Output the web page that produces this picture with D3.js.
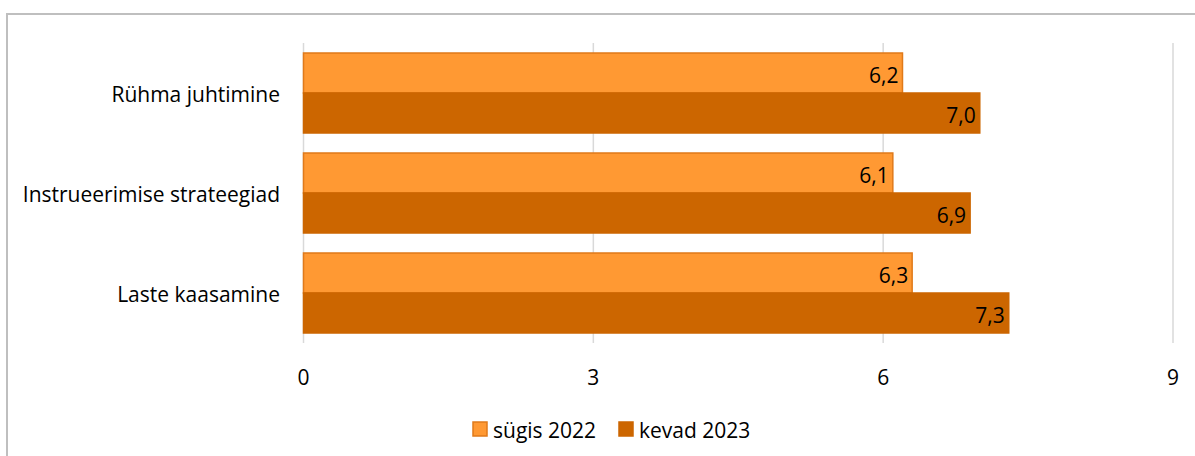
<!DOCTYPE html>
<html>
<head>
<meta charset="utf-8">
<script src="https://cdn.jsdelivr.net/npm/d3@7"></script>
<style>
  body { margin: 0; background: #fff; }
  text { font-family: "Open Sans", Lato, sans-serif; fill: #000; }
</style>
</head>
<body>
<div id="chart"></div>
<script>
// data
var categories = ["Rühma juhtimine", "Instrueerimise strateegiad", "Laste kaasamine"];
var seriesNames = ["sügis 2022", "kevad 2023"];
var sygis2022 = [6.2, 6.1, 6.3];
var kevad2023 = [7.0, 6.9, 7.3];
var xTicks = [0, 3, 6, 9];

(function() {
    var width = 1195,
        height = 456;
    var fontSize = "21px";

    var svg = d3.select("#chart")
        .append("svg")
        .attr("width", width)
        .attr("height", height);

    // outer frame (only top + left visible in the picture)
    svg.append("rect")
        .attr("x", 7).attr("y", 14)
        .attr("width", 1200).attr("height", 460)
        .attr("fill", "none")
        .attr("stroke", "#bfbfbf")
        .attr("stroke-width", 2);

    var left = 303.5, right = 1173, top = 43, bottom = 343;

    var x = d3.scaleLinear().domain([0, 9]).range([left, right]);
    var y = d3.scaleBand().domain(categories).range([top, bottom]).paddingInner(0.2).paddingOuter(0.1);
    var ySub = d3.scaleBand().domain(seriesNames).range([0, y.bandwidth()]);

    var colors = { "sügis 2022": "#ff9933", "kevad 2023": "#cc6600" };
    var strokes = { "sügis 2022": "#e07a1a", "kevad 2023": "#cc6600" };

    // gridlines
    svg.append("g")
        .selectAll("line")
        .data(xTicks)
        .enter().append("line")
        .attr("x1", function(d) { return x(d); })
        .attr("x2", function(d) { return x(d); })
        .attr("y1", top)
        .attr("y2", bottom)
        .attr("stroke", "#d9d9d9")
        .attr("stroke-width", 1.5);

    // x tick labels
    svg.append("g")
        .selectAll("text")
        .data(xTicks)
        .enter().append("text")
        .attr("x", function(d) { return x(d); })
        .attr("y", 377)
        .attr("text-anchor", "middle")
        .attr("dominant-baseline", "central")
        .style("font-size", fontSize)
        .text(function(d) { return d; });

    var rows = categories.map(function(c, i) {
        return { cat: c, values: [
            { s: seriesNames[0], v: sygis2022[i] },
            { s: seriesNames[1], v: kevad2023[i] }
        ]};
    });

    var groups = svg.append("g")
        .selectAll(".cat")
        .data(rows)
        .enter().append("g")
        .attr("class", "cat")
        .attr("transform", function(d) { return "translate(0," + y(d.cat) + ")"; });

    groups.selectAll("rect")
        .data(function(d) { return d.values; })
        .enter().append("rect")
        .attr("x", x(0))
        .attr("y", function(d) { return ySub(d.s); })
        .attr("width", function(d) { return x(d.v) - x(0); })
        .attr("height", ySub.bandwidth())
        .attr("fill", function(d) { return colors[d.s]; })
        .attr("stroke", function(d) { return strokes[d.s]; })
        .attr("stroke-width", 1.5);

    // value labels, inside end
    groups.selectAll(".val")
        .data(function(d) { return d.values; })
        .enter().append("text")
        .attr("class", "val")
        .attr("x", function(d) { return x(d.v) - 4; })
        .attr("y", function(d) { return ySub(d.s) + ySub.bandwidth() / 2 + 2; })
        .attr("text-anchor", "end")
        .attr("dominant-baseline", "central")
        .style("font-size", fontSize)
        .text(function(d) { return d.v.toFixed(1).replace(".", ","); });

    // category labels
    groups.append("text")
        .attr("x", 280)
        .attr("y", y.bandwidth() / 2 + 1)
        .attr("text-anchor", "end")
        .attr("dominant-baseline", "central")
        .style("font-size", fontSize)
        .text(function(d) { return d.cat; });

    // legend
    var legendX = [473, 619];
    var legend = svg.append("g")
        .selectAll(".leg")
        .data(seriesNames)
        .enter().append("g")
        .attr("class", "leg")
        .attr("transform", function(d, i) { return "translate(" + legendX[i] + ",422)"; });

    legend.append("rect")
        .attr("width", 14).attr("height", 14)
        .attr("fill", function(d) { return colors[d]; })
        .attr("stroke", function(d) { return strokes[d]; })
        .attr("stroke-width", 1.5);

    legend.append("text")
        .attr("x", 20)
        .attr("y", 8)
        .attr("dominant-baseline", "central")
        .style("font-size", fontSize)
        .text(function(d) { return d; });
})();
</script>
</body>
</html>
